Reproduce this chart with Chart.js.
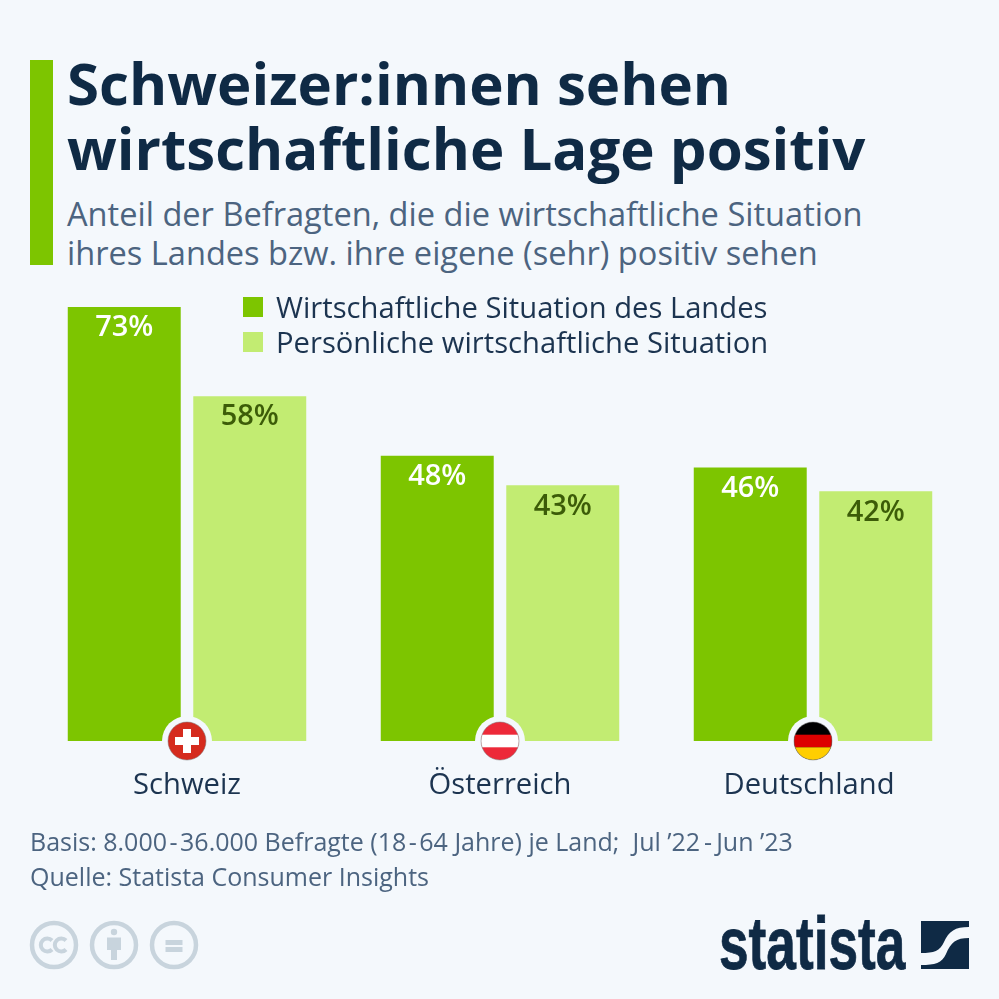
<!DOCTYPE html>
<html lang="de"><head><meta charset="utf-8">
<script src="https://cdn.jsdelivr.net/npm/chart.js@4"></script>
<style>
html,body{margin:0;padding:0;background:#f4f8fc;width:999px;height:999px;overflow:hidden}
body{position:relative;font-family:"Open Sans",sans-serif}
.t{position:absolute;white-space:nowrap;margin:0}
#bar{position:absolute;left:30px;top:60px;width:23px;height:205px;background:#7dc500}
.title{left:67px;font-weight:700;font-size:58.2px;color:#0f2a45;line-height:66px}
.sub{left:67px;font-size:32.6px;color:#4c6480;line-height:40px}
.leg{left:276px;font-size:29.2px;color:#1c3450;line-height:34px}
.sw{position:absolute;left:243px;width:20px;height:20px}
.foot{left:30px;font-size:25px;color:#4c6480;line-height:32px}
.dash{margin:0 1.5px}
canvas{position:absolute;left:0;top:0}
</style></head><body>
<div id="bar"></div>
<h1 class="t title" style="top:50px">Schweizer:innen sehen</h1>
<div class="t title" style="top:115px">wirtschaftliche Lage positiv</div>
<div class="t sub" style="top:194px">Anteil der Befragten, die die wirtschaftliche Situation</div>
<div class="t sub" style="top:233px">ihres Landes bzw. ihre eigene (sehr) positiv sehen</div>
<div style="position:absolute;left:0;top:0;width:999px;height:999px"><canvas id="c" width="999" height="999"></canvas></div>
<div id="legend"></div>
<div class="t foot" style="top:825px">Basis: 8.000&#8202;-&#8202;36.000 Befragte (18&#8202;-&#8202;64 Jahre) je Land;&nbsp; Jul ’22&#8202;<span class="dash">-</span>&#8202;Jun ’23</div>
<div class="t foot" style="top:860px">Quelle: Statista Consumer Insights</div>
<svg style="position:absolute;left:28px;top:918px" width="175" height="54" fill="none" stroke="#c8d4dd" stroke-width="4.5">
<circle cx="26" cy="27" r="22"/><circle cx="86" cy="27" r="22"/><circle cx="146" cy="27" r="22"/>
<path d="M24 22.5a6.5 6.5 0 1 0 0 9M38 22.5a6.5 6.5 0 1 0 0 9" stroke-width="4"/>
<g stroke="none" fill="#c8d4dd"><circle cx="86" cy="14" r="3.2"/><path d="M79 19.5h14V32h-4v10h-6V32h-4z"/><rect x="137.500" y="22" width="17" height="5"/><rect x="137.500" y="29" width="17" height="5"/></g>
</svg>
<div class="t" id="logo" style="left:719px;top:903px;font:700 75px/80px 'Liberation Sans',sans-serif;color:#0f2a45;-webkit-text-stroke:.8px #0f2a45;transform:scaleX(.71);transform-origin:0 0">statista</div>
<svg style="position:absolute;left:921px;top:921px" width="48" height="48"><path fill="#0f2a45" d="M0 0H48V6C34 6 28 10 23 21 19 30 13 32 0 32ZM48 17V48H0V44C14 44 21 42 25 33 30 21 35 17 48 17Z"/></svg>
<script>
const categories = ["Schweiz", "Österreich", "Deutschland"];
const seriesNames = ["Wirtschaftliche Situation des Landes", "Persönliche wirtschaftliche Situation"];
const landValues = [73, 48, 46];
const personalValues = [58, 43, 42];
const seriesColors = ["#7dc500", "#c2ec72"];
const labelColors = ["#ffffff", "#3c5c08"];

document.getElementById('legend').innerHTML = seriesNames.map((n,i)=>
 `<div class="sw" style="top:${297+i*35}px;background:${seriesColors[i]}"></div><div class="t leg" style="top:${290+i*35}px">${n}</div>`).join('');

const bg = "#f4f8fc";
function circleClip(ctx,x,y,r,fn){ctx.save();ctx.beginPath();ctx.arc(x,y,r,0,Math.PI*2);ctx.clip();fn();ctx.restore();}
const flags = [
 (ctx,x,y,r)=>circleClip(ctx,x,y,r,()=>{ctx.fillStyle="#d52b1e";ctx.fillRect(x-r,y-r,2*r,2*r);ctx.fillStyle="#fff";ctx.fillRect(x-12,y-4,24,8);ctx.fillRect(x-4,y-12,8,24);}),
 (ctx,x,y,r)=>circleClip(ctx,x,y,r,()=>{ctx.fillStyle="#ed2939";ctx.fillRect(x-r,y-r,2*r,2*r);ctx.fillStyle="#fff";ctx.fillRect(x-r,y-6.3,2*r,12.6);}),
 (ctx,x,y,r)=>circleClip(ctx,x,y,r,()=>{ctx.fillStyle="#000";ctx.fillRect(x-r,y-r,2*r,2*r);ctx.fillStyle="#dd0000";ctx.fillRect(x-r,y-6.3,2*r,12.6);ctx.fillStyle="#ffce00";ctx.fillRect(x-r,y+6.3,2*r,13);})
];
const decorations = {
 id:'decorations',
 beforeDraw(chart){
  const items=chart.scales.x.getLabelItems(chart.chartArea);
  if(items[2]) items[2].options.translation[0]-=4;
 },
 afterDatasetsDraw(chart){
  const {ctx}=chart;
  ctx.save();
  ctx.textAlign='center';ctx.textBaseline='middle';
  ctx.font='600 29px "Open Sans"';
  chart.data.datasets.forEach((ds,d)=>{
   chart.getDatasetMeta(d).data.forEach((el,i)=>{
    ctx.fillStyle=labelColors[d];
    ctx.fillText(ds.data[i]+'%',el.x,el.y+21);
   });
  });
  const yBase=chart.scales.y.getPixelForValue(0);
  categories.forEach((c,i)=>{
   const x=chart.scales.x.getPixelForValue(i);
   ctx.fillStyle=bg;ctx.beginPath();ctx.arc(x,yBase,25,0,Math.PI*2);ctx.fill();
   flags[i](ctx,x,yBase,19);
   ctx.strokeStyle='rgba(120,120,120,.5)';ctx.lineWidth=1;ctx.beginPath();ctx.arc(x,yBase,19,0,Math.PI*2);ctx.stroke();
  });
  ctx.restore();
 }
};
new Chart(document.getElementById('c'),{
 type:'bar',
 data:{labels:categories,datasets:[
  {label:seriesNames[0],data:landValues,backgroundColor:seriesColors[0]},
  {label:seriesNames[1],data:personalValues,backgroundColor:seriesColors[1]}]},
 plugins:[decorations],
 options:{
  responsive:false,animation:false,devicePixelRatio:1,
  layout:{padding:{left:30.5,right:29.5,top:265.4,bottom:198}},
  categoryPercentage:0.802,barPercentage:0.9,
  plugins:{legend:{display:false},tooltip:{enabled:false}},
  scales:{
   x:{afterFit(s){s.height=60},grid:{display:false},border:{display:false},
      ticks:{color:"#1c3450",font:{family:'"Open Sans"',size:29.2},padding:19,maxRotation:0}},
   y:{display:false,min:0,max:80}
  }
 }
});
</script>
</body></html>
